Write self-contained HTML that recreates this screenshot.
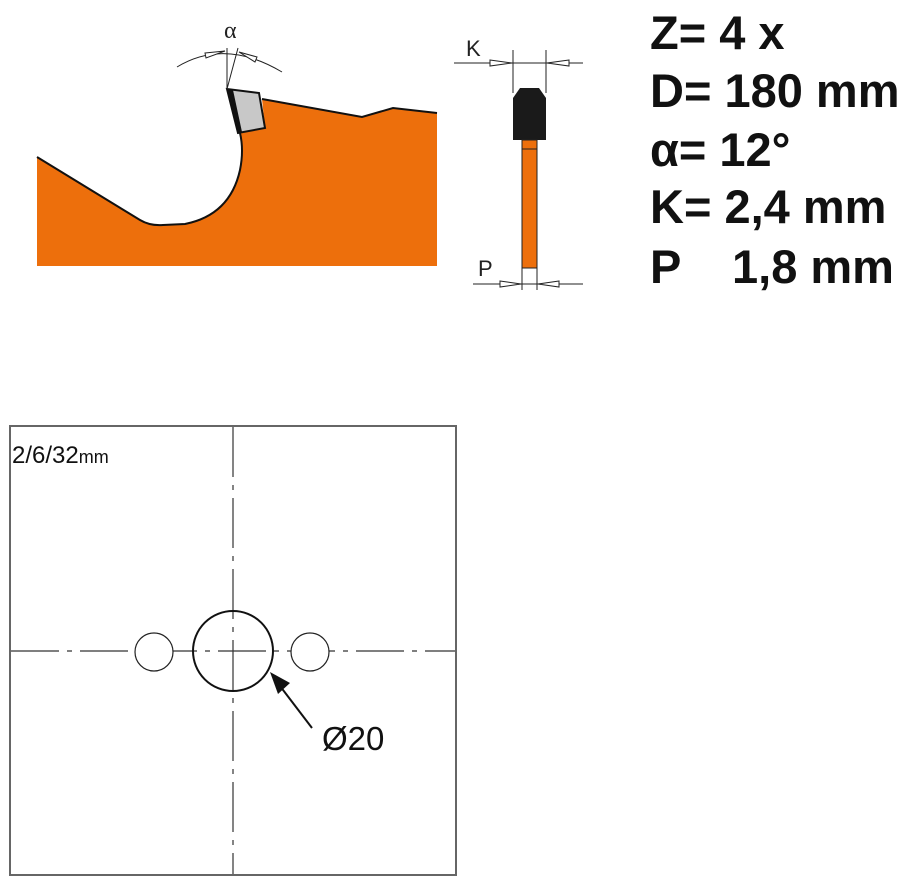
<!DOCTYPE html>
<html><head><style>
html,body{margin:0;padding:0;background:#fff;width:919px;height:886px;overflow:hidden}
svg{display:block}
</style></head><body>
<svg width="919" height="886" viewBox="0 0 919 886" xmlns="http://www.w3.org/2000/svg" font-family="Liberation Sans, sans-serif">
<path d="M37,157 L140,220 Q150,226 163,225 L185,224 Q230,215 240,170 Q244,150 240,133 L265,128 L262,99 L362,117 L393,108 L437,113 L437,266 L37,266 Z" fill="#ed6f0c"/>
<path d="M37,157 L140,220 Q150,226 163,225 L185,224 Q230,215 240,170 Q244,150 240,133" fill="none" stroke="#111" stroke-width="2"/>
<path d="M262,99 L362,117 L393,108 L437,113" fill="none" stroke="#111" stroke-width="2"/>
<path d="M227,89 L259,93 L265,128 L238,133 Z" fill="#c8c8c8" stroke="#111" stroke-width="2"/>
<path d="M227,89 L233,90 L242,132 L238,133 Z" fill="#111"/>
<text x="224" y="38" font-family="Liberation Serif, serif" font-size="24" fill="#222">α</text>
<line x1="227" y1="89" x2="227" y2="48" stroke="#222" stroke-width="1"/>
<line x1="227" y1="89" x2="238" y2="48" stroke="#222" stroke-width="1"/>
<path d="M177,67 Q225,38 282,72" fill="none" stroke="#222" stroke-width="1"/>
<path d="M205,53 L225,51 L206,58 Z" fill="#fff" stroke="#222" stroke-width="1"/>
<path d="M257,57 L239,52 L255,62 Z" fill="#fff" stroke="#222" stroke-width="1"/>
<text x="466" y="56" font-size="22" fill="#222">K</text>
<line x1="454" y1="63" x2="583" y2="63" stroke="#222" stroke-width="1"/>
<line x1="513" y1="50" x2="513" y2="93" stroke="#222" stroke-width="1"/>
<line x1="546" y1="50" x2="546" y2="93" stroke="#222" stroke-width="1"/>
<path d="M490,60 L512,63 L490,66 Z" fill="#fff" stroke="#222" stroke-width="1"/>
<path d="M569,60 L547,63 L569,66 Z" fill="#fff" stroke="#222" stroke-width="1"/>
<path d="M520,88 L539,88 L546,98 L546,140 L513,140 L513,98 Z" fill="#1a1a1a"/>
<rect x="522" y="140" width="15" height="128" fill="#ed6f0c" stroke="#222" stroke-width="1"/>
<line x1="522" y1="149" x2="537" y2="149" stroke="#222" stroke-width="1"/>
<text x="478" y="276" font-size="22" fill="#222">P</text>
<line x1="473" y1="284" x2="583" y2="284" stroke="#222" stroke-width="1"/>
<line x1="522" y1="268" x2="522" y2="290" stroke="#222" stroke-width="1"/>
<line x1="537" y1="268" x2="537" y2="290" stroke="#222" stroke-width="1"/>
<path d="M500,281 L521,284 L500,287 Z" fill="#fff" stroke="#222" stroke-width="1"/>
<path d="M559,281 L538,284 L559,287 Z" fill="#fff" stroke="#222" stroke-width="1"/>
<g font-size="47" font-weight="bold" fill="#111">
<text x="650" y="49">Z= 4 x</text>
<text x="650" y="107">D= 180 mm</text>
<text x="650" y="166">α= 12°</text>
<text x="650" y="223">K= 2,4 mm</text>
<text x="650" y="283">P</text><text x="732" y="283">1,8 mm</text>
</g>
<rect x="10" y="426" width="446" height="449" fill="#fff" stroke="#666" stroke-width="2"/>
<text x="12" y="463" font-size="24" fill="#111">2/6/32<tspan font-size="18">mm</tspan></text>
<line x1="233" y1="427" x2="233" y2="874" stroke="#333" stroke-width="1.2" stroke-dasharray="50,8,5,8"/>
<line x1="11" y1="651" x2="455" y2="651" stroke="#333" stroke-width="1.2" stroke-dasharray="48,8,5,8"/>
<circle cx="233" cy="651" r="40" fill="none" stroke="#111" stroke-width="2"/>
<circle cx="154" cy="652" r="19" fill="#fff" stroke="#222" stroke-width="1.2"/>
<circle cx="310" cy="652" r="19" fill="#fff" stroke="#222" stroke-width="1.2"/>
<line x1="312" y1="728" x2="280" y2="686" stroke="#111" stroke-width="2"/>
<path d="M270,672 L290,683 L278,694 Z" fill="#111"/>
<text x="322" y="750" font-size="33" fill="#111">Ø20</text>
</svg>
</body></html>
